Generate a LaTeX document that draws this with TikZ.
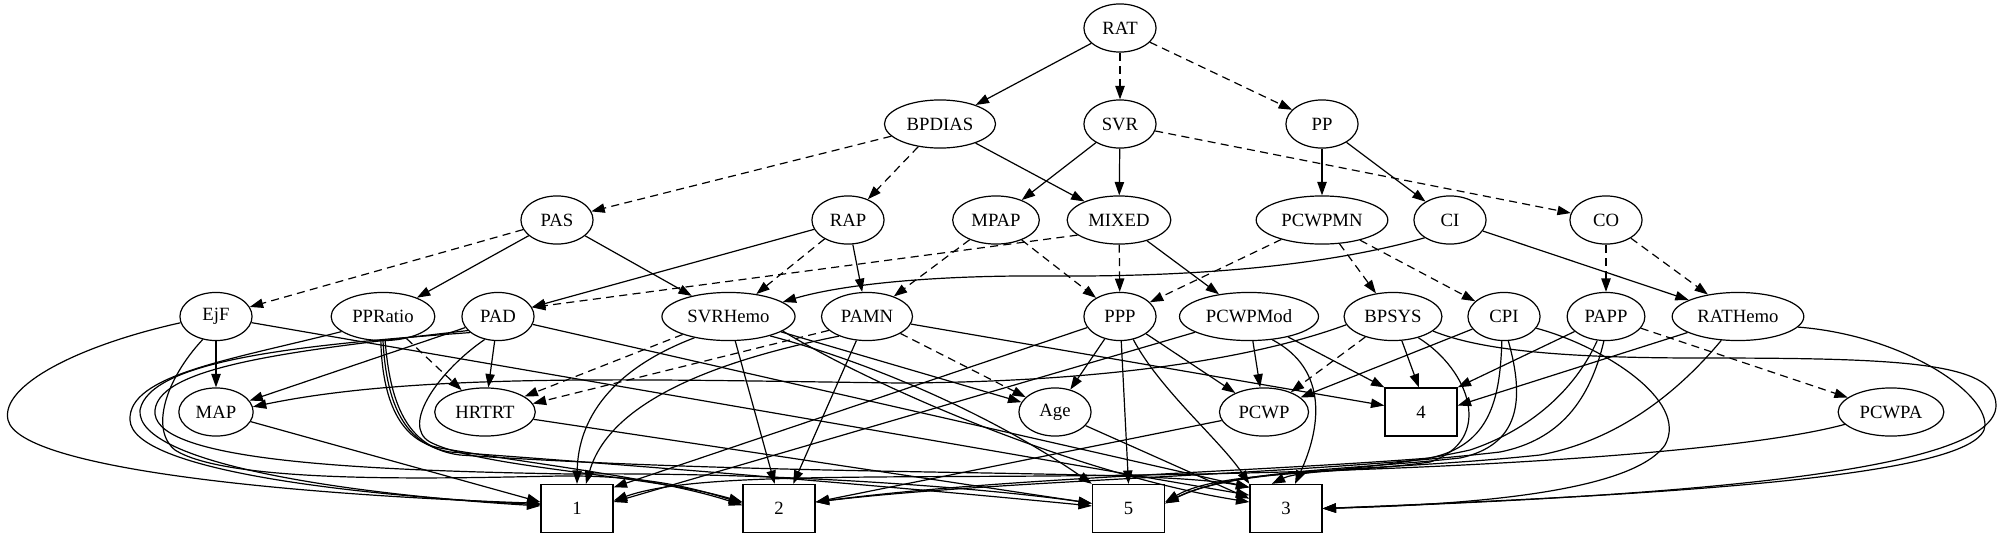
\documentclass[tikz,border=0pt]{standalone}
\usepackage{fontspec}
\setmainfont{Liberation Serif}
\usetikzlibrary{shapes.geometric,arrows.meta}
\tikzset{
  var/.style={draw,ellipse,line width=0.9pt,inner xsep=4.5pt,inner ysep=0pt,minimum width=54pt,minimum height=36pt},
  cls/.style={draw,rectangle,line width=0.9pt,minimum width=54pt,minimum height=36pt},
  dep/.style={line width=0.9pt,-{Triangle[length=10pt,width=7pt]}},
  soft/.style={dep,dash pattern=on 6pt off 4pt}
}
\begin{document}
\begin{tikzpicture}[x=0.7485pt,y=-0.7485pt,font=\fontsize{14}{17}\selectfont]
\useasboundingbox (0,0) rectangle (2009,539);
% variables
\node[var] (RAT) at (1120,28) {RAT};
\node[var] (BPDIAS) at (940,124) {BPDIAS};
\node[var] (SVR) at (1120,124) {SVR};
\node[var] (PP) at (1322,124) {PP};
\node[var] (PAS) at (557,220) {PAS};
\node[var] (RAP) at (848,220) {RAP};
\node[var] (MPAP) at (996,220) {MPAP};
\node[var] (MIXED) at (1119,220) {MIXED};
\node[var] (PCWPMN) at (1322,220) {PCWPMN};
\node[var] (CI) at (1450,220) {CI};
\node[var] (CO) at (1606,220) {CO};
\node[var] (EjF) at (216,316.5) {EjF};
\node[var] (PPRatio) at (383,316.5) {PPRatio};
\node[var] (PAD) at (498,316.5) {PAD};
\node[var] (SVRHemo) at (728.5,316.5) {SVRHemo};
\node[var] (PAMN) at (867,316.5) {PAMN};
\node[var] (PPP) at (1120,316.5) {PPP};
\node[var] (PCWPMod) at (1249,316.5) {PCWPMod};
\node[var] (BPSYS) at (1393,316.5) {BPSYS};
\node[var] (CPI) at (1504,316.5) {CPI};
\node[var] (PAPP) at (1606,316.5) {PAPP};
\node[var] (RATHemo) at (1738,316.5) {RATHemo};
\node[var] (MAP) at (216,412) {MAP};
\node[var] (HRTRT) at (485,412) {HRTRT};
\node[var] (Age) at (1055,412) {Age};
\node[var] (PCWP) at (1264,412) {PCWP};
\node[var] (PCWPA) at (1891,412) {PCWPA};
% classes
\node[cls] (k4) at (1421,412) {4};
\node[cls] (k1) at (577,508.5) {1};
\node[cls] (k2) at (779,508.5) {2};
\node[cls] (k5) at (1128.5,508.5) {5};
\node[cls] (k3) at (1286,508.5) {3};
% upper ranks
\draw[dep] (RAT) -- (BPDIAS);
\draw[soft] (RAT) -- (SVR);
\draw[soft] (RAT) -- (PP);
\draw[soft] (BPDIAS) -- (PAS);
\draw[soft] (BPDIAS) -- (RAP);
\draw[dep] (BPDIAS) -- (MIXED);
\draw[dep] (SVR) -- (MPAP);
\draw[dep] (SVR) -- (MIXED);
\draw[soft] (SVR) -- (CO);
\draw[dep] (PP) -- (PCWPMN);
\draw[dep] (PP) -- (CI);
\draw[soft] (PAS) -- (EjF);
\draw[dep] (PAS) -- (PPRatio);
\draw[dep] (PAS) -- (SVRHemo);
\draw[dep] (RAP) -- (PAD);
\draw[soft] (RAP) -- (SVRHemo);
\draw[dep] (RAP) -- (PAMN);
\draw[soft] (MPAP) -- (PAMN);
\draw[soft] (MPAP) -- (PPP);
\draw[soft] (MIXED.200) -- (PAD.15);
\draw[soft] (MIXED) -- (PPP);
\draw[dep] (MIXED) -- (PCWPMod);
\draw[soft] (PCWPMN) -- (PPP);
\draw[soft] (PCWPMN) -- (BPSYS);
\draw[soft] (PCWPMN) -- (CPI);
\draw[dep] (CI.215) .. controls (1330,265) and (1200,277) .. (1050,276) .. controls (930,275) and (840,285) .. (SVRHemo.15);
\draw[dep] (CI) -- (RATHemo);
\draw[soft] (CO) -- (PAPP);
\draw[soft] (CO) -- (RATHemo);
% left group
\draw[dep] (EjF) -- (MAP);
\draw[dep] (EjF.190) .. controls (80,345) and (0,385) .. (8,420) .. controls (20,470) and (300,495) .. (k1.172);
\draw[dep] (EjF.240) .. controls (165,380) and (150,430) .. (175,450) .. controls (230,485) and (450,478) .. (560,476) .. controls (650,475) and (700,490) .. (k2.172);
\draw[dep] (EjF) -- (k3.160);
\draw[dep] (PPRatio.200) .. controls (230,360) and (128,375) .. (130,420) .. controls (132,470) and (350,495) .. (k1.174);
\draw[dep] (PPRatio.265) .. controls (382,390) and (395,440) .. (440,448) .. controls (520,462) and (660,478) .. (k2.175);
\draw[dep] (PPRatio.270) .. controls (386,395) and (400,444) .. (450,452) .. controls (700,470) and (950,492) .. (k5.176);
\draw[dep] (PPRatio.275) .. controls (390,400) and (405,448) .. (460,455) .. controls (800,478) and (1150,468) .. (k3.150);
\draw[soft] (PPRatio) -- (HRTRT);
\draw[dep] (PAD) -- (MAP);
\draw[dep] (PAD) -- (HRTRT);
\draw[dep] (PAD.210) .. controls (300,345) and (150,360) .. (140,410) .. controls (135,465) and (360,495) .. (k1.176);
\draw[dep] (PAD.205) .. controls (300,350) and (160,365) .. (155,410) .. controls (150,458) and (330,470) .. (570,474) .. controls (800,472) and (1000,490) .. (k5.172);
\draw[dep] (PAD.240) .. controls (440,370) and (400,425) .. (430,442) .. controls (480,468) and (650,475) .. (k2.170);
\draw[dep] (PAD) -- (k3.150);
\draw[dep] (MAP) -- (k1.170);
\draw[dep] (HRTRT) -- (k5.172);
% middle group
\draw[dep] (SVRHemo.212) .. controls (610,370) and (578,420) .. (k1.north);
\draw[dep] (SVRHemo) -- (k2.100);
\draw[dep] (SVRHemo.335) .. controls (880,365) and (1000,420) .. (k5.north west);
\draw[dep] (SVRHemo.345) .. controls (880,390) and (1080,475) .. (k3.170);
\draw[dep] (SVRHemo) -- (Age);
\draw[soft] (SVRHemo) -- (HRTRT);
\draw[dep] (PAMN.215) .. controls (720,360) and (610,400) .. (k1.70);
\draw[dep] (PAMN) -- (k2.60);
\draw[dep] (PAMN) -- (k4.170);
\draw[soft] (PAMN) -- (Age);
\draw[soft] (PAMN.200) -- (HRTRT.10);
\draw[dep] (PPP) -- (k1.30);
\draw[dep] (PPP) -- (Age);
\draw[dep] (PPP) -- (k5.north);
\draw[dep] (PPP) -- (PCWP);
\draw[dep] (PPP.300) .. controls (1160,390) and (1220,440) .. (k3.north west);
\draw[dep] (PCWPMod) -- (k1.10);
\draw[dep] (PCWPMod) -- (PCWP);
\draw[dep] (PCWPMod) -- (k4.north west);
\draw[dep] (PCWPMod.315) .. controls (1330,370) and (1320,430) .. (k3.70);
\draw[dep] (Age) -- (k3.165);
\draw[dep] (PCWP) -- (k2.10);
% right group
\draw[dep] (BPSYS.190) .. controls (1250,360) and (1100,382) .. (900,383) .. controls (650,380) and (420,372) .. (MAP.8);
\draw[soft] (BPSYS) -- (PCWP);
\draw[dep] (BPSYS) -- (k4.95);
\draw[dep] (BPSYS.320) .. controls (1470,370) and (1495,440) .. (1430,462) .. controls (1340,475) and (1220,470) .. (k5.10);
\draw[dep] (BPSYS.340) .. controls (1480,350) and (1560,358) .. (1700,358) .. controls (1900,358) and (1995,362) .. (1996,405) .. controls (1997,470) and (1700,495) .. (k3.east);
\draw[dep] (CPI) -- (PCWP);
\draw[dep] (CPI.265) .. controls (1500,400) and (1490,445) .. (1430,458) .. controls (1250,472) and (1000,478) .. (k2.10);
\draw[dep] (CPI.280) .. controls (1525,400) and (1520,445) .. (1460,458) .. controls (1350,470) and (1230,470) .. (k5.8);
\draw[dep] (CPI.340) .. controls (1600,345) and (1690,400) .. (1665,445) .. controls (1630,495) and (1450,505) .. (k3.east);
\draw[dep] (PAPP) -- (k4.north east);
\draw[soft] (PAPP) -- (PCWPA);
\draw[dep] (PAPP.250) .. controls (1575,390) and (1530,430) .. (1470,450) .. controls (1380,470) and (1300,470) .. (k3.120);
\draw[dep] (PAPP.265) .. controls (1590,400) and (1560,440) .. (1500,452) .. controls (1300,475) and (1000,480) .. (k2.10);
\draw[dep] (RATHemo) -- (k4.10);
\draw[dep] (RATHemo.235) .. controls (1680,390) and (1620,440) .. (1540,455) .. controls (1380,472) and (1240,466) .. (k5.8);
\draw[dep] (RATHemo.350) .. controls (1900,335) and (1985,390) .. (1985,425) .. controls (1985,478) and (1650,495) .. (k3.east);
\draw[dep] (PCWPA.195) .. controls (1750,450) and (1500,468) .. (1200,474) .. controls (900,480) and (700,470) .. (k1.12);
\end{tikzpicture}
\end{document}
